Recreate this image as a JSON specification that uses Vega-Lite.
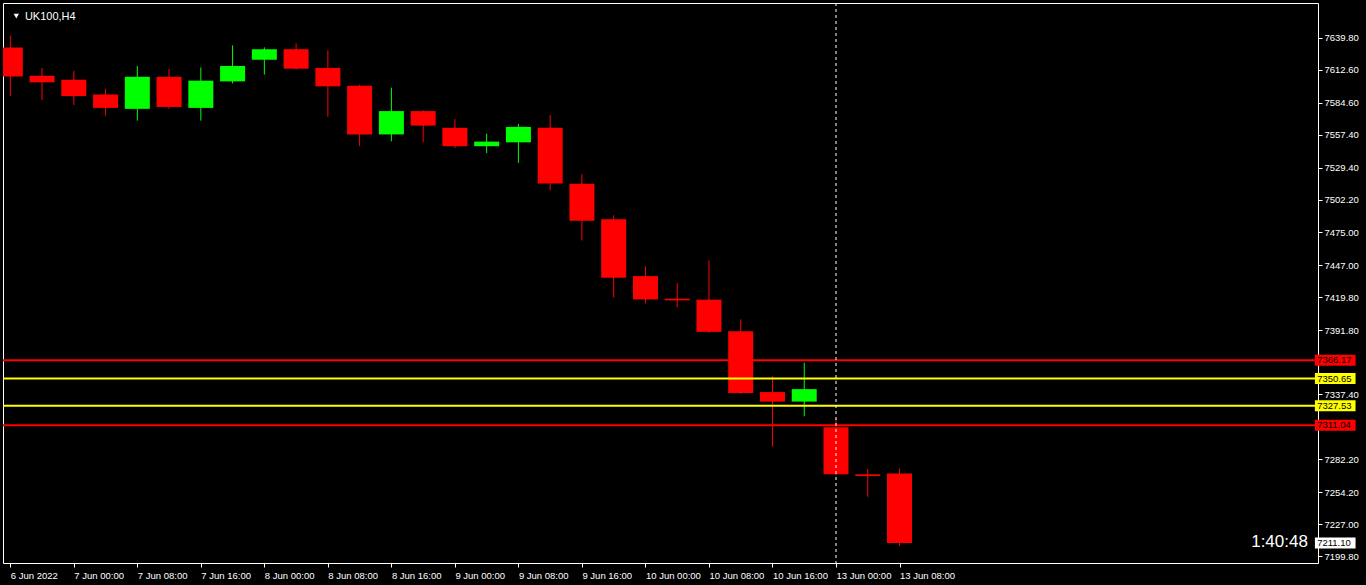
{
  "$schema": "https://vega.github.io/schema/vega-lite/v6.json",
  "width": 1315,
  "height": 560,
  "autosize": {"type": "none"},
  "padding": {"left": 3, "top": 3, "right": 48, "bottom": 22},
  "background": "#000000",
  "config": {
    "view": {"stroke": "#ffffff", "strokeWidth": 1},
    "font": "Liberation Sans",
    "axis": {"grid": false, "domain": false, "labelColor": "#ffffff", "tickColor": "#ffffff", "labelFont": "Liberation Sans", "labelFontSize": 9.5, "labelOverlap": false, "labelFlush": false}
  },
  "datasets": {
    "candles": [
      {"k": 0, "o": 7631.5, "h": 7641.7, "l": 7590.3, "c": 7607.0},
      {"k": 1, "o": 7607.6, "h": 7614.2, "l": 7587.0, "c": 7602.0},
      {"k": 2, "o": 7604.2, "h": 7611.7, "l": 7582.8, "c": 7590.3},
      {"k": 3, "o": 7591.7, "h": 7596.7, "l": 7573.6, "c": 7580.3},
      {"k": 4, "o": 7579.5, "h": 7615.9, "l": 7569.5, "c": 7606.7},
      {"k": 5, "o": 7606.7, "h": 7613.4, "l": 7579.5, "c": 7581.1},
      {"k": 6, "o": 7580.3, "h": 7614.6, "l": 7569.5, "c": 7603.4},
      {"k": 7, "o": 7602.8, "h": 7633.4, "l": 7601.1, "c": 7615.9},
      {"k": 8, "o": 7621.1, "h": 7631.7, "l": 7608.6, "c": 7630.1},
      {"k": 9, "o": 7630.1, "h": 7635.1, "l": 7612.8, "c": 7613.6},
      {"k": 10, "o": 7614.2, "h": 7629.2, "l": 7572.8, "c": 7598.6},
      {"k": 11, "o": 7599.2, "h": 7600.0, "l": 7547.8, "c": 7557.8},
      {"k": 12, "o": 7557.8, "h": 7597.5, "l": 7552.0, "c": 7577.6},
      {"k": 13, "o": 7577.6, "h": 7578.4, "l": 7551.1, "c": 7565.3},
      {"k": 14, "o": 7563.4, "h": 7570.9, "l": 7546.1, "c": 7547.8},
      {"k": 15, "o": 7547.8, "h": 7558.4, "l": 7542.0, "c": 7551.7},
      {"k": 16, "o": 7551.1, "h": 7566.7, "l": 7533.6, "c": 7564.2},
      {"k": 17, "o": 7563.4, "h": 7574.2, "l": 7510.3, "c": 7516.1},
      {"k": 18, "o": 7515.9, "h": 7524.2, "l": 7467.8, "c": 7484.5},
      {"k": 19, "o": 7485.9, "h": 7489.2, "l": 7419.5, "c": 7436.1},
      {"k": 20, "o": 7437.6, "h": 7445.9, "l": 7414.5, "c": 7417.8},
      {"k": 21, "o": 7418.4, "h": 7431.7, "l": 7411.1, "c": 7417.0},
      {"k": 22, "o": 7417.6, "h": 7450.9, "l": 7389.5, "c": 7390.3},
      {"k": 23, "o": 7390.9, "h": 7400.9, "l": 7337.6, "c": 7338.4},
      {"k": 24, "o": 7339.2, "h": 7352.6, "l": 7292.8, "c": 7331.1},
      {"k": 25, "o": 7331.1, "h": 7364.2, "l": 7318.6, "c": 7341.7},
      {"k": 26, "o": 7309.4, "h": 7316.9, "l": 7268.4, "c": 7269.5},
      {"k": 27, "o": 7269.4, "h": 7273.9, "l": 7250.3, "c": 7268.0},
      {"k": 28, "o": 7270.1, "h": 7274.3, "l": 7208.6, "c": 7211.1}
    ],
    "levels": [
      {"v": 7366.17, "t": "outer"},
      {"v": 7350.65, "t": "inner"},
      {"v": 7327.53, "t": "inner"},
      {"v": 7311.04, "t": "outer"}
    ],
    "tags": [
      {"v": 7366.17, "t": "outer", "s": "7366.17"},
      {"v": 7350.65, "t": "inner", "s": "7350.65"},
      {"v": 7327.53, "t": "inner", "s": "7327.53"},
      {"v": 7311.04, "t": "outer", "s": "7311.04"},
      {"v": 7211.10, "t": "bid", "s": "7211.10"}
    ],
    "marker": [{"k": 26}],
    "notes": [
      {"x": 0.46, "y": 7655.0, "s": "UK100,H4"}
    ],
    "timer": [
      {"x": 40.86, "y": 7207.8, "s": "1:40:48"}
    ],
    "arrow": [
      {"x": 0.19, "y": 7658.2}
    ]
  },
  "layer": [
    {
      "data": {"name": "candles"},
      "mark": {"type": "rule", "strokeWidth": 1, "clip": true},
      "encoding": {
        "x": {
          "field": "k", "type": "quantitative", "title": null,
          "scale": {"domain": [-0.072, 41.02], "nice": false, "zero": false},
          "axis": {
            "orient": "bottom",
            "values": [0, 2, 4, 6, 8, 10, 12, 14, 16, 18, 20, 22, 24, 26, 28],
            "tickCount": 40,
            "labelExpr": "['6 Jun 2022','7 Jun 00:00','7 Jun 08:00','7 Jun 16:00','8 Jun 00:00','8 Jun 08:00','8 Jun 16:00','9 Jun 00:00','9 Jun 08:00','9 Jun 16:00','10 Jun 00:00','10 Jun 08:00','10 Jun 16:00','13 Jun 00:00','13 Jun 08:00'][round(datum.value/2)]",
            "labelAlign": "left",
            "labelBaseline": "top",
            "labelPadding": 3,
            "tickSize": 4,
            "labelFlush": false,
            "labelOverlap": false
          }
        },
        "y": {
          "field": "l", "type": "quantitative", "title": null,
          "scale": {"domain": [7198.4, 7665.07], "nice": false, "zero": false},
          "axis": {
            "orient": "right",
            "values": [7639.8, 7612.6, 7584.6, 7557.4, 7529.4, 7502.2, 7475.0, 7447.0, 7419.8, 7391.8, 7337.4, 7282.2, 7254.2, 7227.0, 7199.8],
            "tickCount": 40,
            "format": ".2f",
            "tickSize": 4,
            "labelPadding": 2,
            "labelOverlap": false,
            "labelFlush": false,
            "labelBound": false
          }
        },
        "y2": {"field": "h"},
        "color": {"condition": {"test": "datum.c > datum.o", "value": "#00ff00"}, "value": "#ff0000"}
      }
    },
    {
      "data": {"name": "candles"},
      "mark": {"type": "bar", "width": 25, "clip": true},
      "encoding": {
        "x": {"field": "k", "type": "quantitative", "title": null},
        "y": {"field": "o", "type": "quantitative", "title": null},
        "y2": {"field": "c"},
        "color": {"condition": {"test": "datum.c > datum.o", "value": "#00ff00"}, "value": "#ff0000"}
      }
    },
    {
      "data": {"name": "levels"},
      "mark": {"type": "rule", "strokeWidth": 2},
      "encoding": {
        "y": {"field": "v", "type": "quantitative", "title": null},
        "color": {"field": "t", "type": "nominal", "legend": null, "scale": {"domain": ["outer", "inner", "bid"], "range": ["#ff0000", "#ffff00", "#ffffff"]}}
      }
    },
    {
      "data": {"name": "marker"},
      "mark": {"type": "rule", "color": "#ffffff", "strokeWidth": 1, "strokeDash": [3, 3]},
      "encoding": {"x": {"field": "k", "type": "quantitative", "title": null}}
    },
    {
      "data": {"name": "tags"},
      "mark": {"type": "bar", "height": 11, "clip": false},
      "encoding": {
        "x": {"datum": 41.08, "type": "quantitative"},
        "x2": {"datum": 42.36},
        "y": {"field": "v", "type": "quantitative", "title": null},
        "color": {"field": "t", "type": "nominal", "legend": null}
      }
    },
    {
      "data": {"name": "tags"},
      "mark": {"type": "text", "align": "left", "baseline": "middle", "fontSize": 9.5, "color": "#000000", "clip": false},
      "encoding": {
        "x": {"datum": 41.15, "type": "quantitative"},
        "y": {"field": "v", "type": "quantitative", "title": null},
        "text": {"field": "s"}
      }
    },
    {
      "data": {"name": "notes"},
      "mark": {"type": "text", "align": "left", "baseline": "alphabetic", "fontSize": 11, "color": "#ffffff"},
      "encoding": {"x": {"field": "x", "type": "quantitative", "title": null}, "y": {"field": "y", "type": "quantitative", "title": null}, "text": {"field": "s"}}
    },
    {
      "data": {"name": "arrow"},
      "mark": {"type": "point", "shape": "triangle-down", "filled": true, "size": 28, "color": "#ffffff", "opacity": 1},
      "encoding": {"x": {"field": "x", "type": "quantitative", "title": null}, "y": {"field": "y", "type": "quantitative", "title": null}}
    },
    {
      "data": {"name": "timer"},
      "mark": {"type": "text", "align": "right", "baseline": "alphabetic", "fontSize": 17, "color": "#ffffff"},
      "encoding": {"x": {"field": "x", "type": "quantitative", "title": null}, "y": {"field": "y", "type": "quantitative", "title": null}, "text": {"field": "s"}}
    }
  ]
}
